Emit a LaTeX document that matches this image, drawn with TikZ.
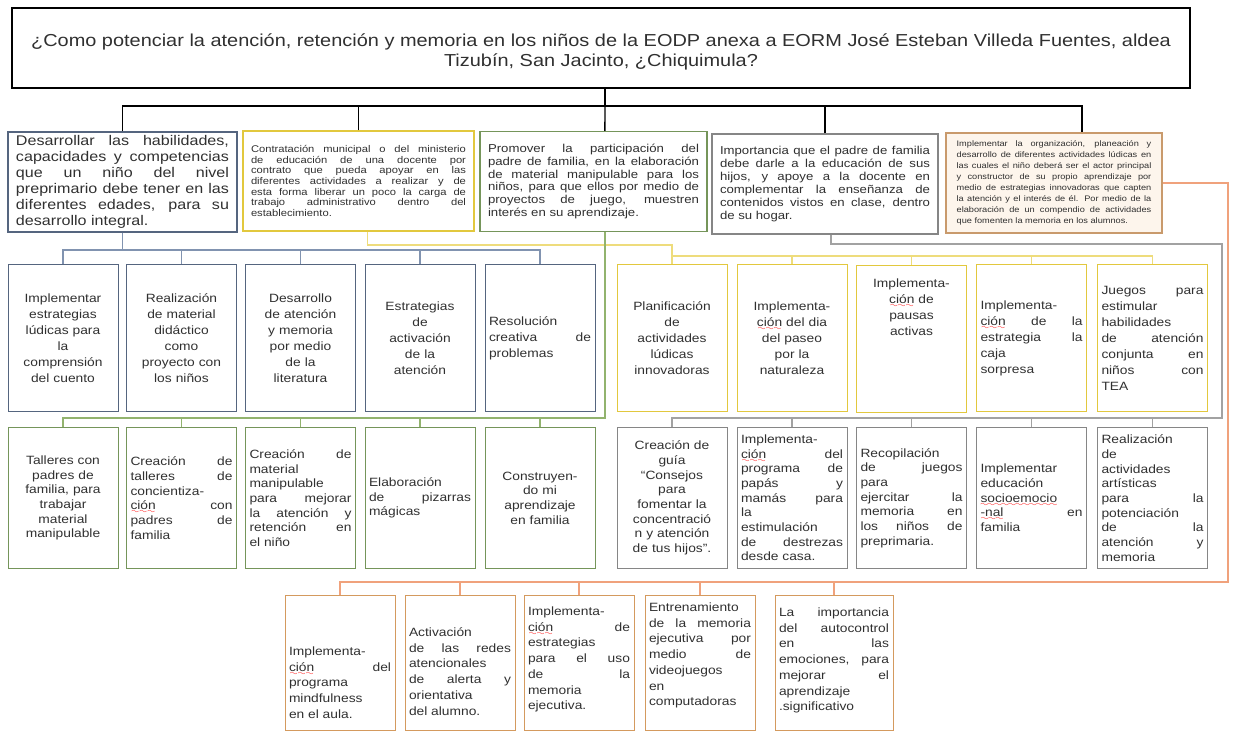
\documentclass[tikz,border=0pt]{standalone}
\usepackage{fontspec}
\setmainfont{Liberation Sans}[FakeStretch=1.15]
\usepackage{xcolor}

\definecolor{texto}{HTML}{303030}
\definecolor{bordeazul}{HTML}{55657F}
\definecolor{lineaazul}{HTML}{8193B0}
\definecolor{bordeamarillo}{HTML}{E2C83E}
\definecolor{lineaamarilla}{HTML}{EEDC7C}
\definecolor{bordeverde}{HTML}{75955A}
\definecolor{lineaverde}{HTML}{92B36E}
\definecolor{bordegris}{HTML}{868686}
\definecolor{lineagris}{HTML}{A2A2A2}
\definecolor{bordenaranja}{HTML}{C99A6C}
\definecolor{bordenaranja2}{HTML}{D49A5E}
\definecolor{fondonaranja}{HTML}{FDF5EC}
\definecolor{lineanaranja}{HTML}{F0A27C}

\font\ondas=lasy6
\newcommand{\errorort}[1]{\leavevmode\setbox0\hbox{#1}\rlap{\lower3pt\hbox to \wd0{\color{red}\xleaders\hbox{\ondas\char58}\hfil}}\box0\relax}

\tolerance=10000
\hyphenpenalty=10000
\hbadness=10000

\begin{document}
\begin{tikzpicture}[x=0.75pt, y=-0.75pt,
    pregunta/.style={draw=black, line width=1.1pt, minimum width=883.5pt, minimum height=60pt,
        align=center, text=texto, font=\fontsize{13}{15}\selectfont},
    objetivo/.style={draw, line width=0.9pt, text=texto, inner xsep=6pt, inner ysep=0pt,
        minimum height=75pt, align=justify},
    caja/.style={draw, line width=0.75pt, text=texto, inner xsep=3pt, inner ysep=0pt,
        text width=76.5pt},
    fila2/.style={caja, minimum height=110.25pt, font=\fontsize{9}{12}\selectfont},
    fila3/.style={caja, minimum height=105pt, font=\fontsize{9}{11}\selectfont},
    fila4/.style={caja, draw=bordenaranja2, anchor=north, align=justify,
        font=\fontsize{9}{11.8}\selectfont, text height=#1, text depth=101.25pt-#1},
    lnegra/.style={draw=black, line width=1.1pt},
    lazul/.style={draw=lineaazul, line width=0.8pt},
    lamar/.style={draw=lineaamarilla, line width=0.8pt},
    lverde/.style={draw=lineaverde, line width=0.8pt},
    lgris/.style={draw=lineagris, line width=0.8pt},
    lnar/.style={draw=lineanaranja, line width=0.8pt}]

    \useasboundingbox (0,0) rectangle (1233,734);

    % Pregunta principal
    \node[pregunta, text height=30.4pt] (preg) at (601,48) {¿Como potenciar la atención, retención y memoria en los niños de la EODP anexa a EORM José Esteban Villeda Fuentes, aldea\\Tizubín, San Jacinto, ¿Chiquimula?};

    % Primer nivel
    \node[objetivo, draw=bordeazul, text width=159.75pt, font=\fontsize{10.5}{12}\selectfont] (obj1) at (122.5,182)
        {Desarrollar las habilidades,\linebreak capacidades y competencias\linebreak que un niño del nivel\linebreak preprimario debe tener en las\linebreak diferentes edades, para su\linebreak desarrollo integral.};
    \node[objetivo, draw=bordeamarillo, text width=161.25pt, font=\fontsize{7.3}{7.9}\selectfont] (obj2) at (358.5,181)
        {Contratación municipal o del ministerio\linebreak de educación de una docente por\linebreak contrato que pueda apoyar en las\linebreak diferentes actividades a realizar y de\linebreak esta forma liberar un poco la carga de\linebreak trabajo administrativo dentro del\linebreak establecimiento.};
    \node[objetivo, draw=bordeverde, text width=158.25pt, font=\fontsize{8.6}{9.7}\selectfont] (obj3) at (593.5,181.5)
        {Promover la participación del\linebreak padre de familia, en la elaboración\linebreak de material manipulable para los\linebreak niños, para que ellos por medio de\linebreak proyectos de juego, muestren\linebreak interés en su aprendizaje.};
    \node[objetivo, draw=bordegris, text width=157.5pt, font=\fontsize{8.6}{9.7}\selectfont] (obj4) at (825,184)
        {Importancia que el padre de familia\linebreak debe darle a la educación de sus\linebreak hijos, y apoye a la docente en\linebreak complementar la enseñanza de\linebreak contenidos vistos en clase, dentro\linebreak de su hogar.};
    \node[objetivo, draw=bordenaranja, fill=fondonaranja, inner xsep=8pt, text width=146pt, font=\fontsize{6}{8.2}\selectfont] (obj5) at (1054,183)
        {Implementar la organización, planeación y\linebreak desarrollo de diferentes actividades lúdicas en\linebreak las cuales el niño deberá ser el actor principal\linebreak y constructor de su propio aprendizaje por\linebreak medio de estrategias innovadoras que capten\linebreak la atención y el interés de él. Por medio de la\linebreak elaboración de un compendio de actividades\linebreak que fomenten la memoria en los alumnos.};

    % Segundo nivel, azul
    \node[fila2, draw=bordeazul, align=center] (azul1) at (63,338.5) {Implementar\\estrategias\\lúdicas para\\la\\comprensión\\del cuento};
    \node[fila2, draw=bordeazul, align=center] (azul2) at (181.5,338.5) {Realización\\de material\\didáctico\\como\\proyecto con\\los niños};
    \node[fila2, draw=bordeazul, align=center] (azul3) at (300.5,338.5) {Desarrollo\\de atención\\y memoria\\por medio\\de la\\literatura};
    \node[fila2, draw=bordeazul, align=center] (azul4) at (420,338.5) {Estrategias\\de\\activación\\de la\\atención};
    \node[fila2, draw=bordeazul, align=justify] (azul5) at (540,338.5) {Resolución\linebreak creativa de\linebreak problemas};

    % Segundo nivel, amarillo
    \node[fila2, draw=bordeamarillo, align=center] (amar1) at (672,338.5) {Planificación\\de\\actividades\\lúdicas\\innovadoras};
    \node[fila2, draw=bordeamarillo, align=center] (amar2) at (792,338.5) {Implementa-\\\errorort{ción} del dia\\del paseo\\por la\\naturaleza};
    \node[fila2, draw=bordeamarillo, align=center, anchor=north, text height=16.5pt, text depth=93.75pt] (amar3) at (911.5,265) {Implementa-\\\errorort{ción} de\\pausas\\activas};
    \node[fila2, draw=bordeamarillo, align=justify] (amar4) at (1031.5,338.5) {Implementa-\linebreak \errorort{ción} de la\linebreak estrategia la\linebreak caja\linebreak sorpresa};
    \node[fila2, draw=bordeamarillo, align=justify] (amar5) at (1152.5,338.5) {Juegos para\linebreak estimular\linebreak habilidades\linebreak de atención\linebreak conjunta en\linebreak niños con\linebreak TEA};

    % Tercer nivel, verde
    \node[fila3, draw=bordeverde, align=center] (verde1) at (63,498) {Talleres con\\padres de\\familia, para\\trabajar\\material\\manipulable};
    \node[fila3, draw=bordeverde, align=justify] (verde2) at (181.5,498) {Creación de\linebreak talleres de\linebreak concientiza-\linebreak \errorort{ción} con\linebreak padres de\linebreak familia};
    \node[fila3, draw=bordeverde, align=justify] (verde3) at (300.5,498) {Creación de\linebreak material\linebreak manipulable\linebreak para mejorar\linebreak la atención y\linebreak retención en\linebreak el niño};
    \node[fila3, draw=bordeverde, align=justify] (verde4) at (420,498) {Elaboración\linebreak de pizarras\linebreak mágicas};
    \node[fila3, draw=bordeverde, align=center] (verde5) at (540,498) {Construyen-\\do mi\\aprendizaje\\en familia};

    % Tercer nivel, gris
    \node[fila3, draw=bordegris, align=center] (gris1) at (672,498) {Creación de\\guía\\“Consejos\\para\\fomentar la\\concentració\\n y atención\\de tus hijos”.};
    \node[fila3, draw=bordegris, align=justify] (gris2) at (792,498) {Implementa-\linebreak \errorort{ción} del\linebreak programa de\linebreak papás y\linebreak mamás para\linebreak la\linebreak estimulación\linebreak de destrezas\linebreak desde casa.};
    \node[fila3, draw=bordegris, align=justify] (gris3) at (911.5,498) {Recopilación\linebreak de juegos\linebreak para\linebreak ejercitar la\linebreak memoria en\linebreak los niños de\linebreak preprimaria.};
    \node[fila3, draw=bordegris, align=justify] (gris4) at (1031.5,498) {Implementar\linebreak educación\linebreak \errorort{socioemocio}\linebreak \errorort{-nal} en\linebreak familia};
    \node[fila3, draw=bordegris, align=justify] (gris5) at (1152.5,498) {Realización\linebreak de\linebreak actividades\linebreak artísticas\linebreak para la\linebreak potenciación\linebreak de la\linebreak atención y\linebreak memoria};

    % Cuarto nivel, naranja
    \node[fila4=45pt] (nar1) at (340,595) {Implementa-\linebreak \errorort{ción} del\linebreak programa\linebreak mindfulness\linebreak en el aula.};
    \node[fila4=30.75pt] (nar2) at (460,595) {Activación\linebreak de las redes\linebreak atencionales\linebreak de alerta y\linebreak orientativa\linebreak del alumno.};
    \node[fila4=15pt] (nar3) at (579,595) {Implementa-\linebreak \errorort{ción} de\linebreak estrategias\linebreak para el uso\linebreak de la\linebreak memoria\linebreak ejecutiva.};
    \node[fila4=12pt] (nar4) at (700,595) {Entrenamiento\linebreak de la memoria\linebreak ejecutiva por\linebreak medio de\linebreak videojuegos\linebreak en\linebreak computadoras};
    \node[fila4=15.75pt, text width=82.5pt] (nar5) at (834,595) {La importancia\linebreak del autocontrol\linebreak en las\linebreak emociones, para\linebreak mejorar el\linebreak aprendizaje\linebreak .significativo};

    % Conexiones de la pregunta
    \coordinate (nudo) at (605,106);
    \draw[lnegra] (preg.south -| nudo) -- (nudo);
    \draw[lnegra] (obj1.north) |- (nudo) -| ([xshift=21pt]obj5.north);
    \draw[lnegra] (obj2.north) -- (obj2.north |- nudo);
    \draw[lnegra] ([xshift=8.6pt]obj3.north) -- (nudo);
    \draw[lnegra] (obj4.north) -- (obj4.north |- nudo);

    % Conexiones azules
    \coordinate (nazul) at (122.5,250);
    \draw[lazul] (obj1.south) -- (nazul);
    \draw[lazul] (azul1.north) |- (nazul) -| (azul5.north);
    \draw[lazul] (azul2.north) -- (azul2.north |- nazul);
    \draw[lazul] (azul3.north) -- (azul3.north |- nazul);
    \draw[lazul] (azul4.north) -- (azul4.north |- nazul);

    % Conexiones amarillas
    \coordinate (namar) at (672,245);
    \coordinate (namar2) at (672,256);
    \draw[lamar] ([xshift=7pt]obj2.south) |- (namar) -- (amar1.north);
    \draw[lamar] (namar2) -| (amar5.north);
    \draw[lamar] (amar2.north) -- (amar2.north |- namar2);
    \draw[lamar] (amar3.north) -- (amar3.north |- namar2);
    \draw[lamar] (amar4.north) -- (amar4.north |- namar2);

    % Conexiones verdes
    \coordinate (nverde) at (63,418);
    \draw[lverde] ([xshift=8.6pt]obj3.south) |- (nverde) -- (verde1.north);
    \draw[lverde] (verde2.north) -- (verde2.north |- nverde);
    \draw[lverde] (verde3.north) -- (verde3.north |- nverde);
    \draw[lverde] (verde4.north) -- (verde4.north |- nverde);
    \draw[lverde] (verde5.north) -- (verde5.north |- nverde);

    % Conexiones grises
    \coordinate (ngris1) at (1222,244);
    \coordinate (ngris2) at (1222,418);
    \draw[lgris] ([xshift=4.5pt]obj4.south) |- (ngris1) -- (ngris2) -| (gris1.north);
    \draw[lgris] (gris2.north) -- (gris2.north |- ngris2);
    \draw[lgris] (gris3.north) -- (gris3.north |- ngris2);
    \draw[lgris] (gris4.north) -- (gris4.north |- ngris2);
    \draw[lgris] (gris5.north) -- (gris5.north |- ngris2);

    % Conexiones naranjas
    \coordinate (nnar1) at (1228,183);
    \coordinate (nnar2) at (1228,582);
    \draw[lnar] (obj5.east) -- (nnar1) -- (nnar2) -| (nar1.north);
    \draw[lnar] (nar2.north) -- (nar2.north |- nnar2);
    \draw[lnar] (nar3.north) -- (nar3.north |- nnar2);
    \draw[lnar] (nar4.north) -- (nar4.north |- nnar2);
    \draw[lnar] (nar5.north) -- (nar5.north |- nnar2);
\end{tikzpicture}
\end{document}
